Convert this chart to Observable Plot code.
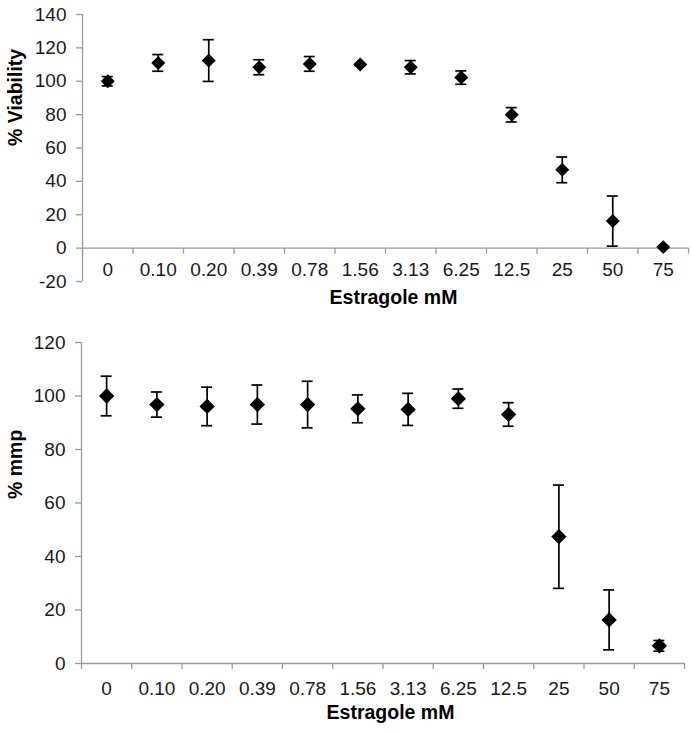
<!DOCTYPE html>
<html><head><meta charset="utf-8">
<script src="https://cdn.jsdelivr.net/npm/d3@7"></script>
<script src="https://cdn.jsdelivr.net/npm/@observablehq/plot@0.6"></script>
<style>body{margin:0;background:#fff} svg{display:block}</style>
</head><body><div id="chart"></div>
<script>
// Data
const concentrations = ["0","0.10","0.20","0.39","0.78","1.56","3.13","6.25","12.5","25","50","75"];
const viability      = [100, 111, 112.4, 108.4, 110.4, 110, 108.4, 102.2, 79.9, 46.9, 16.2, 0.6];
const viabilityErr   = [2.8, 5, 12.5, 4.5, 4.4, 0.6, 4, 4, 4.3, 7.7, 15, 0];
const mmp            = [100, 96.8, 96.1, 96.8, 96.8, 95.2, 95, 99, 93.1, 47.4, 16.3, 6.6];
const mmpErr         = [7.4, 4.7, 7.2, 7.3, 8.7, 5.2, 6, 3.6, 4.4, 19.3, 11.2, 2];
const viabilityTicks = [-20, 0, 20, 40, 60, 80, 100, 120, 140];
const mmpTicks       = [0, 20, 40, 60, 80, 100, 120];
const xTitle = "Estragole mM";

const grey = "#9a9a9a";
const diamond = d3.symbolDiamond2 || "diamond";

function panel(o) {
  const rows = concentrations.map((c, i) => ({c, pos: i + 0.5, v: o.values[i], lo: o.values[i] - o.errors[i], hi: o.values[i] + o.errors[i], e: o.errors[i]}));
  const err = rows.filter(d => d.e > 0);
  const bounds = d3.range(concentrations.length + 1);
  return Plot.plot({
    width: 691, height: o.height,
    marginTop: o.marginTop, marginBottom: o.marginBottom, marginLeft: o.marginLeft, marginRight: o.marginRight,
    style: {fontFamily: "'Liberation Sans', Arial, Helvetica, sans-serif", fontSize: "19px", color: "#1a1a1a", background: "#fff", overflow: "visible"},
    x: {domain: [0, concentrations.length], axis: null},
    y: {domain: o.yDomain, axis: null},
    marks: [
      Plot.ruleX([0], {stroke: grey, strokeWidth: 1.3}),
      Plot.ruleY(o.yTicks, {x1: 0, x2: 0, insetLeft: -6, stroke: grey, strokeWidth: 1.3}),
      Plot.text(o.yTicks, {x: 0, y: d => d, dx: -16, textAnchor: "end", fontSize: 19}),
      Plot.ruleY([0], {stroke: grey, strokeWidth: 1.3}),
      Plot.ruleX(bounds, {x: d => d, y1: 0, y2: 0, insetBottom: -6, stroke: grey, strokeWidth: 1.3}),
      Plot.text(rows, {x: "pos", y: 0, text: "c", dy: o.labelDy, fontSize: 19}),
      Plot.ruleX(err, {x: "pos", y1: "lo", y2: "hi", stroke: "#000", strokeWidth: 1.7}),
      Plot.ruleY(err, {x1: "pos", x2: "pos", y: "lo", insetLeft: -5.5, insetRight: -5.5, stroke: "#000", strokeWidth: 1.7}),
      Plot.ruleY(err, {x1: "pos", x2: "pos", y: "hi", insetLeft: -5.5, insetRight: -5.5, stroke: "#000", strokeWidth: 1.7}),
      Plot.dot(rows, {x: "pos", y: "v", symbol: diamond, r: o.r, fill: "#000", stroke: "none"}),
      Plot.text([xTitle], {frameAnchor: "bottom", dy: o.titleDy, dx: o.titleDx, fontWeight: "bold", fontSize: 19.5, fill: "#000"}),
      Plot.text([o.yLabel], {frameAnchor: "left", rotate: -90, dx: o.yLabelDx, dy: o.yLabelDy, fontWeight: "bold", fontSize: 19.5, fill: "#000"})
    ]
  });
}

const chart = document.getElementById("chart");
chart.append(panel({
  values: viability, errors: viabilityErr, yDomain: [-20, 140], yTicks: viabilityTicks, yLabel: "% Viability",
  height: 322, marginTop: 14, marginBottom: 41, marginLeft: 82, marginRight: 3,
  r: 6.3, labelDy: 22, titleDy: 22, titleDx: 8, yLabelDx: -67, yLabelDy: -2
}));
chart.append(panel({
  values: mmp, errors: mmpErr, yDomain: [0, 120], yTicks: mmpTicks, yLabel: "% mmp",
  height: 411, marginTop: 20, marginBottom: 70, marginLeft: 81, marginRight: 7,
  r: 6.9, labelDy: 25, titleDy: 55, titleDx: 7.5, yLabelDx: -66, yLabelDy: -4
}));
</script>
</body></html>
